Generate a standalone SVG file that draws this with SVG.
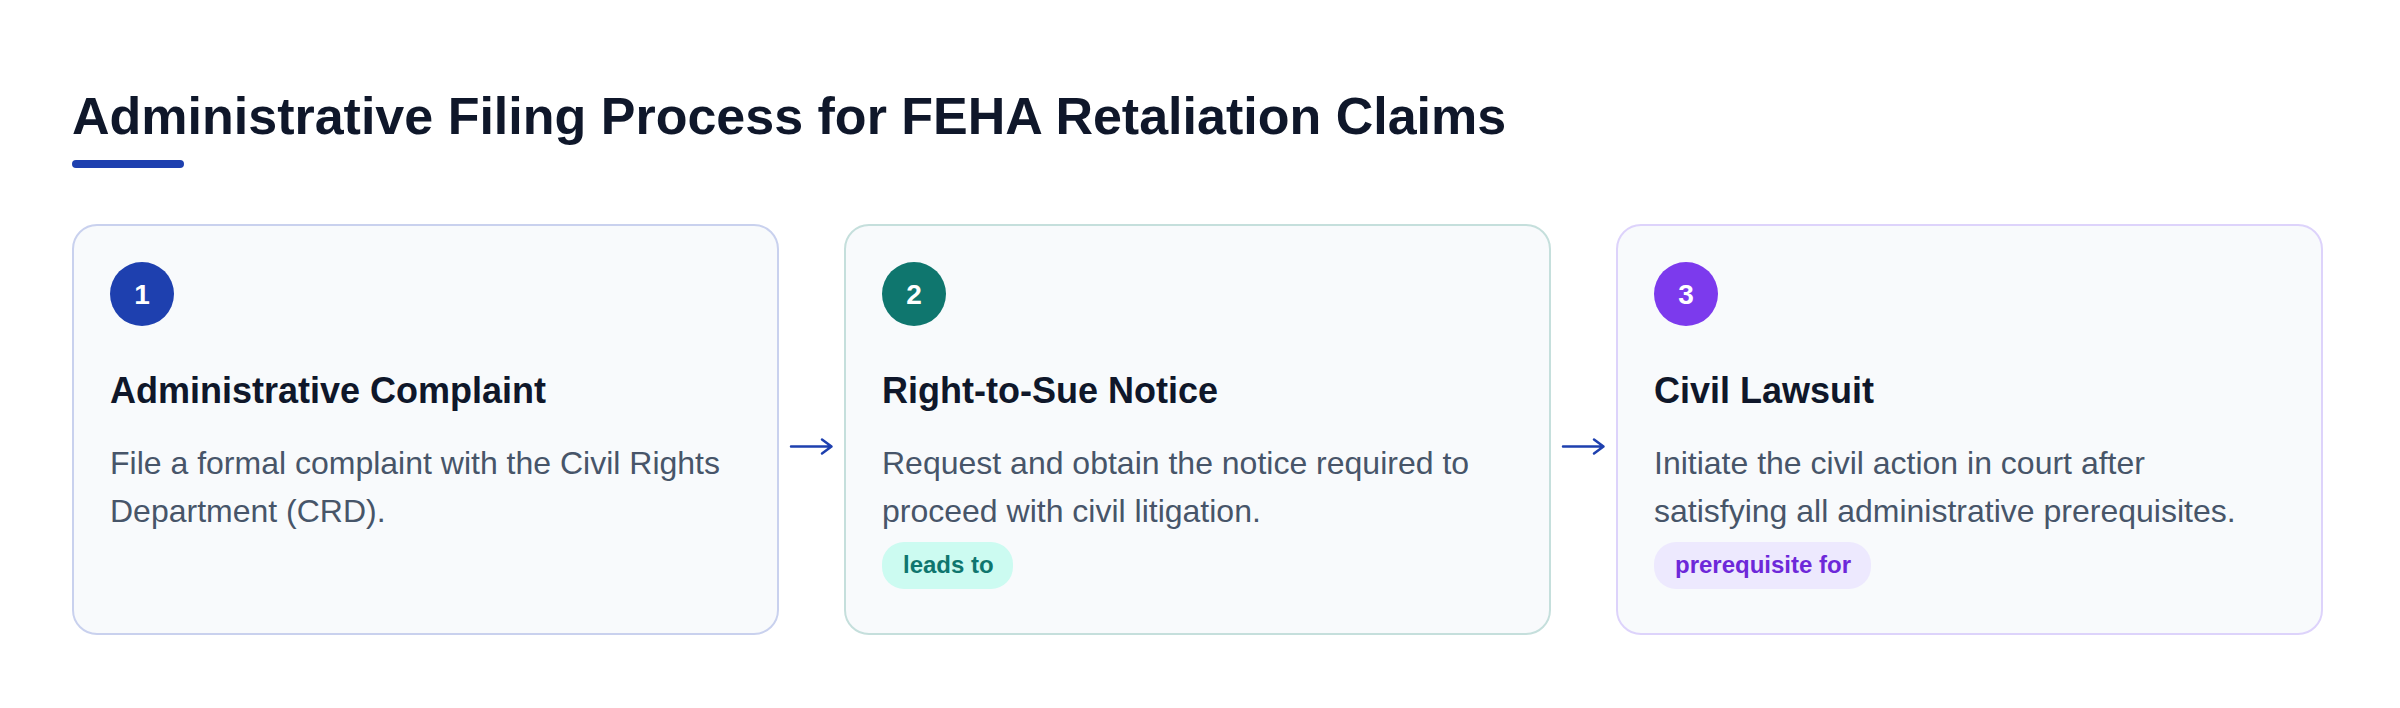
<svg xmlns="http://www.w3.org/2000/svg" width="2400" height="708" viewBox="0 0 2400 708">
  <style>
    .title { font-family: "Liberation Sans", Arial, sans-serif; font-weight: 700; font-size: 52px; fill: #0f172a; }
    .card { fill: #f8fafc; stroke-width: 2; }
    .num { font-family: "Liberation Sans", Arial, sans-serif; font-weight: 700; font-size: 28px; fill: #ffffff; text-anchor: middle; }
    .head { font-family: "Liberation Sans", Arial, sans-serif; font-weight: 700; font-size: 36px; fill: #0f172a; }
    .desc { font-family: "Liberation Sans", Arial, sans-serif; font-size: 32px; fill: #475569; }
    .badge { font-family: "Liberation Sans", Arial, sans-serif; font-weight: 700; font-size: 24px; }
    .conn { fill: none; stroke: #1e40af; stroke-width: 2.5; stroke-linecap: round; stroke-linejoin: round; }
  </style>
  <rect width="2400" height="708" fill="#ffffff"/>
  <g id="header">
    <text class="title" x="72" y="134">Administrative Filing Process for FEHA Retaliation Claims</text>
    <rect x="72" y="160" width="112" height="8" rx="4" fill="#1e40af"/>
  </g>
  <g id="step1">
    <rect class="card" x="73" y="225" width="705" height="409" rx="24" stroke="#c9d1ee"/>
    <circle cx="142" cy="294" r="32" fill="#1e40af"/>
    <text class="num" x="142" y="304">1</text>
    <text class="head" x="110" y="403">Administrative Complaint</text>
    <text class="desc" x="110" y="474">File a formal complaint with the Civil Rights</text>
    <text class="desc" x="110" y="522">Department (CRD).</text>
  </g>
  <g id="step2">
    <rect class="card" x="845" y="225" width="705" height="409" rx="24" stroke="#c5dfdc"/>
    <circle cx="914" cy="294" r="32" fill="#0f766e"/>
    <text class="num" x="914" y="304">2</text>
    <text class="head" x="882" y="403">Right-to-Sue Notice</text>
    <text class="desc" x="882" y="474">Request and obtain the notice required to</text>
    <text class="desc" x="882" y="522">proceed with civil litigation.</text>
    <rect x="882" y="542" width="131" height="47" rx="22" fill="#ccfbf1"/>
    <text class="badge" x="903" y="573" fill="#0f766e">leads to</text>
  </g>
  <g id="step3">
    <rect class="card" x="1617" y="225" width="705" height="409" rx="24" stroke="#ddd3fb"/>
    <circle cx="1686" cy="294" r="32" fill="#7c3aed"/>
    <text class="num" x="1686" y="304">3</text>
    <text class="head" x="1654" y="403">Civil Lawsuit</text>
    <text class="desc" x="1654" y="474">Initiate the civil action in court after</text>
    <text class="desc" x="1654" y="522">satisfying all administrative prerequisites.</text>
    <rect x="1654" y="542" width="217" height="47" rx="22" fill="#ede9fe"/>
    <text class="badge" x="1675" y="573" fill="#6d28d9">prerequisite for</text>
  </g>
  <g id="connectors">
    <path class="conn" d="M791 446.5 H831 M822 439.5 L831.5 446.5 L822 453.5"/>
    <path class="conn" d="M1563 446.5 H1603 M1594 439.5 L1603.5 446.5 L1594 453.5"/>
  </g>
</svg>
